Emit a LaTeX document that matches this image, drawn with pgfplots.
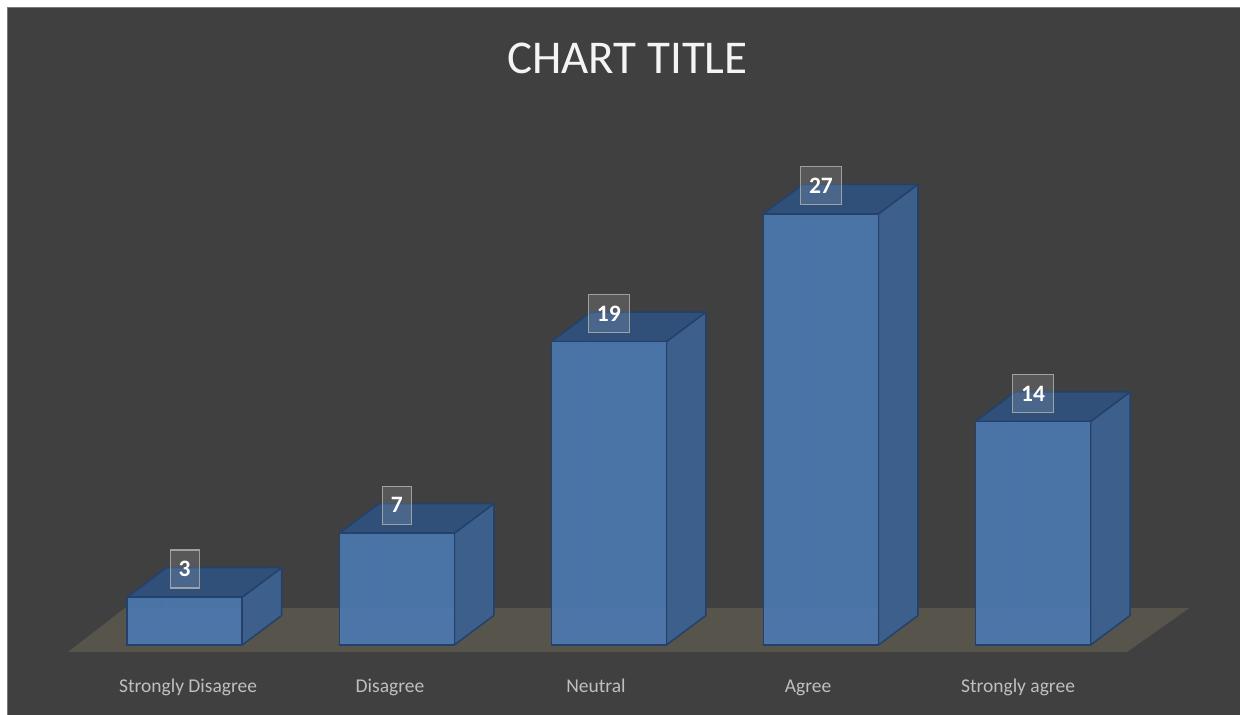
\documentclass[border=0pt]{standalone}
\usepackage{pgfplots}
\pgfplotsset{compat=1.18}
\usepackage{fontspec}
\setmainfont{Carlito}
\definecolor{bg}{HTML}{404040}
\definecolor{framegray}{HTML}{7A7A7A}
\definecolor{floorcol}{HTML}{57544C}
\definecolor{frontcol}{HTML}{4C79B2}
\definecolor{sidecol}{HTML}{3D5F8C}
\definecolor{topcol}{HTML}{30507A}
\definecolor{edgecol}{HTML}{23416B}
\definecolor{hidcol}{HTML}{5E89C2}
\definecolor{labcol}{HTML}{BFBFBF}
\definecolor{titlecol}{HTML}{F4F4F4}
\definecolor{boxborder}{HTML}{A9A9A9}
\begin{document}
\begin{tikzpicture}
\useasboundingbox (0,0) rectangle (1240pt,715pt);
\fill[white] (0,0) rectangle (1240pt,715pt);
\fill[bg] (7pt,0) rectangle (1240pt,708pt);
\draw[framegray, line width=1.2pt] (7.6pt,0) -- (7.6pt,707.4pt) -- (1240pt,707.4pt);
\begin{axis}[
  at={(0,0)}, anchor=south west,
  scale only axis, width=1240pt, height=715pt,
  xmin=-0.8708, xmax=4.9755, ymin=-4.3832, ymax=40.388,
  clip=false,
  axis line style={draw=none},
  tick style={draw=none},
  major tick length=0pt,
  ytick=\empty,
  xtick={0.016,0.968,1.939,2.939,3.929},
  xticklabels={Strongly Disagree,Disagree,Neutral,Agree,Strongly agree},
  xticklabel style={anchor=base, yshift=22pt, font=\fontsize{19.5}{22}\selectfont, text=labcol},
  /pgf/number format/assume math mode=true,
  title={CHART TITLE},
  title style={at={(axis description cs:0.506,0.8895)}, anchor=base, font=\fontsize{47}{50}\selectfont, text=titlecol},
]
% floor
\addplot[fill=floorcol, draw=none] coordinates {(-0.5502,-0.438) (4.4427,-0.438) (4.7374,2.317) (-0.2815,2.317)} -- cycle;
% side faces
\addplot[fill=sidecol, draw=edgecol, line width=1.5pt, line join=round] coordinates {(0.2711,0) (0.4573,1.847) (0.4573,4.847) (0.2711,3)} -- cycle;
\addplot[fill=sidecol, draw=edgecol, line width=1.5pt, line join=round] coordinates {(1.2711,0) (1.4573,1.847) (1.4573,8.847) (1.2711,7)} -- cycle;
\addplot[fill=sidecol, draw=edgecol, line width=1.5pt, line join=round] coordinates {(2.2711,0) (2.4573,1.847) (2.4573,20.847) (2.2711,19)} -- cycle;
\addplot[fill=sidecol, draw=edgecol, line width=1.5pt, line join=round] coordinates {(3.2711,0) (3.4573,1.847) (3.4573,28.847) (3.2711,27)} -- cycle;
\addplot[fill=sidecol, draw=edgecol, line width=1.5pt, line join=round] coordinates {(4.2711,0) (4.4573,1.847) (4.4573,15.847) (4.2711,14)} -- cycle;
% top faces
\addplot[fill=topcol, draw=edgecol, line width=1.5pt, line join=round] coordinates {(-0.2711,3) (0.2711,3) (0.4573,4.847) (-0.0849,4.847)} -- cycle;
\addplot[fill=topcol, draw=edgecol, line width=1.5pt, line join=round] coordinates {(0.7289,7) (1.2711,7) (1.4573,8.847) (0.9151,8.847)} -- cycle;
\addplot[fill=topcol, draw=edgecol, line width=1.5pt, line join=round] coordinates {(1.7289,19) (2.2711,19) (2.4573,20.847) (1.9151,20.847)} -- cycle;
\addplot[fill=topcol, draw=edgecol, line width=1.5pt, line join=round] coordinates {(2.7289,27) (3.2711,27) (3.4573,28.847) (2.9151,28.847)} -- cycle;
\addplot[fill=topcol, draw=edgecol, line width=1.5pt, line join=round] coordinates {(3.7289,14) (4.2711,14) (4.4573,15.847) (3.9151,15.847)} -- cycle;
% hidden back edges seen through the front faces
\addplot[hidcol, line width=1pt, draw opacity=0.45] coordinates {(-0.2711,0) (-0.0849,1.847) (-0.0849,3) (-0.0849,1.847) (0.2711,1.847)};
\addplot[hidcol, line width=1pt, draw opacity=0.45] coordinates {(0.7289,0) (0.9151,1.847) (0.9151,7) (0.9151,1.847) (1.2711,1.847)};
\addplot[hidcol, line width=1pt, draw opacity=0.45] coordinates {(1.7289,0) (1.9151,1.847) (1.9151,19) (1.9151,1.847) (2.2711,1.847)};
\addplot[hidcol, line width=1pt, draw opacity=0.45] coordinates {(2.7289,0) (2.9151,1.847) (2.9151,27) (2.9151,1.847) (3.2711,1.847)};
\addplot[hidcol, line width=1pt, draw opacity=0.45] coordinates {(3.7289,0) (3.9151,1.847) (3.9151,14) (3.9151,1.847) (4.2711,1.847)};
% front faces with data labels
\addplot[ybar, bar width=115pt, fill=frontcol, fill opacity=0.9, draw=edgecol, line width=1.5pt,
  nodes near coords,
  nodes near coords style={anchor=center, yshift=28pt, font=\fontsize{23.5}{25}\selectfont\bfseries,
    text=white, draw=boxborder, line width=1.3pt, fill=white, fill opacity=0.13, draw opacity=0.9, text opacity=1,
    minimum height=38pt, inner xsep=8.5pt, inner ysep=0pt}]
  coordinates {(0,3) (1,7) (2,19) (3,27) (4,14)};
\end{axis}
\end{tikzpicture}
\end{document}
